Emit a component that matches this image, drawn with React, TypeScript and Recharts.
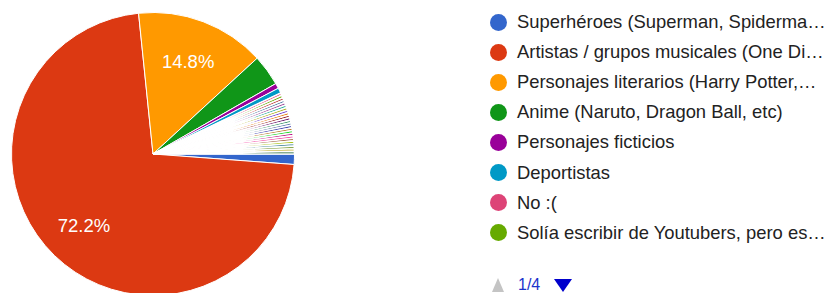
import { PieChart, Pie, Cell, Legend } from 'recharts'

// Paleta por defecto de Google Charts (orden de las respuestas)
const PALETTE = [
  '#3366cc', '#dc3912', '#ff9900', '#109618', '#990099', '#0099c6', '#dd4477', '#66aa00',
  '#b82e2e', '#316395', '#994499', '#22aa99', '#aaaa11', '#6633cc', '#e67300', '#8b0707',
  '#651067', '#329262', '#5574a6', '#3b3eac', '#b77322', '#16d620', '#b91383', '#f4359e',
  '#9c5935', '#a9c413', '#2a778d', '#668d1c', '#bea413', '#0c5922',
]

// Respuestas visibles en la página 1/4 de la leyenda
const VISIBLE_ANSWERS = [
  'Superhéroes (Superman, Spiderma…',
  'Artistas / grupos musicales (One Di…',
  'Personajes literarios (Harry Potter,…',
  'Anime (Naruto, Dragon Ball, etc)',
  'Personajes ficticios',
  'Deportistas',
  'No :(',
  'Solía escribir de Youtubers, pero es…',
]
// Respuestas "otro" de las páginas 2-4 (una respuesta cada una)
const OTHER_ANSWERS = [
  'Otra 9', 'Otra 10', 'Otra 11', 'Otra 12', 'Otra 13', 'Otra 14', 'Otra 15', 'Otra 16',
  'Otra 17', 'Otra 18', 'Otra 19', 'Otra 20', 'Otra 21', 'Otra 22', 'Otra 23', 'Otra 24',
  'Otra 25', 'Otra 26', 'Otra 27', 'Otra 28', 'Otra 29', 'Otra 30',
]
const COUNTS = [
  4, 244, 50, 12, 2, 2, 1, 1,
  1, 1, 1, 1, 1, 1, 1, 1,
  1, 1, 1, 1, 1, 1, 1, 1,
  1, 1, 1, 1, 1, 1,
]
const PAGE_LABEL = '1/4'
const PAGE_SIZE = 8

const data = [...VISIBLE_ANSWERS, ...OTHER_ANSWERS].map((name, i) => ({ name, value: COUNTS[i] }))

const FONT = '"Liberation Sans", Arial, sans-serif'
const RAD = Math.PI / 180

function renderLabel(p: any) {
  if (p.percent < 0.1) return null
  const r = p.outerRadius * 0.7
  const x = p.cx + r * Math.cos(-p.midAngle * RAD)
  const y = p.cy + r * Math.sin(-p.midAngle * RAD)
  return (
    <text x={x} y={y} fill="#ffffff" fontSize={18.5} fontFamily={FONT} textAnchor="middle" dominantBaseline="central">
      {`${(p.percent * 100).toFixed(1)}%`}
    </text>
  )
}

// Leyenda paginada como la de Google Forms (el payload de Recharts viene ordenado, así que se usa el orden original)
function LegendPage() {
  const items = data.slice(0, PAGE_SIZE).map((d, i) => ({ value: d.name, color: PALETTE[i] }))
  return (
    <div style={{ position: 'relative', width: 360, height: 293, fontFamily: FONT }}>
      <ul style={{ listStyle: 'none', margin: 0, padding: 0, position: 'absolute', top: 7, left: 0 }}>
        {items.map((it, i) => (
          <li key={i} style={{ height: 30.1, display: 'flex', alignItems: 'center', whiteSpace: 'nowrap' }}>
            <span style={{ display: 'inline-block', width: 17, height: 17, borderRadius: '50%', background: it.color, marginLeft: 10, marginRight: 10 }} />
            <span style={{ fontSize: 18.4, color: '#222222' }}>{it.value}</span>
          </li>
        ))}
      </ul>
      <div style={{ position: 'absolute', top: 276, left: 12, display: 'flex', alignItems: 'center', fontSize: 16, height: 18 }}>
        <span style={{ display: 'inline-block', width: 0, height: 0, borderLeft: '6px solid transparent', borderRight: '6px solid transparent', borderBottom: '14px solid #c4c4c4', marginRight: 14 }} />
        <span style={{ color: '#1a33cc' }}>{PAGE_LABEL}</span>
        <span style={{ display: 'inline-block', width: 0, height: 0, borderLeft: '9px solid transparent', borderRight: '9px solid transparent', borderTop: '13px solid #0000cc', marginLeft: 14 }} />
      </div>
    </div>
  )
}

export default function App() {
  return (
    <div style={{ position: 'absolute', left: 0, top: 0, width: 840, height: 293, background: '#ffffff', overflow: 'hidden' }}>
      <PieChart width={840} height={293} margin={{ top: 0, right: 0, bottom: 0, left: 0 }}>
        <Pie
          data={data}
          dataKey="value"
          nameKey="name"
          cx={153}
          cy={154}
          outerRadius={141.5}
          startAngle={0}
          endAngle={-360}
          stroke="#ffffff"
          label={renderLabel}
          labelLine={false}
          isAnimationActive={false}
        >
          {data.map((d, i) => (
            <Cell key={i} fill={PALETTE[i % PALETTE.length]} strokeWidth={d.value === 1 ? 1.6 : 1} />
          ))}
        </Pie>
        <Legend
          layout="vertical"
          align="right"
          verticalAlign="top"
          content={LegendPage}
          wrapperStyle={{ position: 'absolute', left: 480, top: 0, width: 360, height: 293 }}
        />
      </PieChart>
    </div>
  )
}
